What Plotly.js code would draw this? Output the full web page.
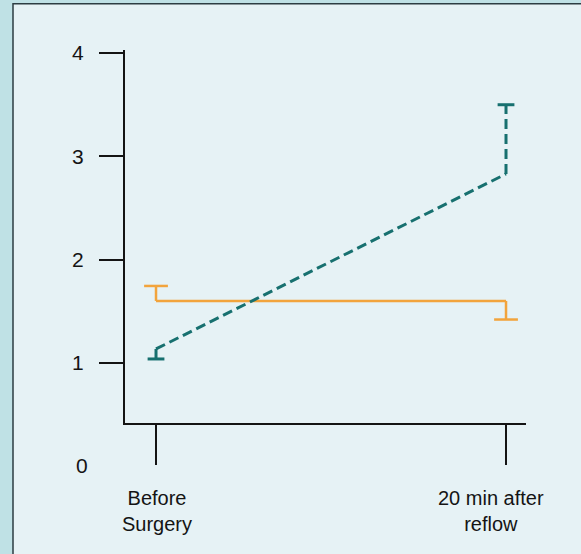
<!DOCTYPE html>
<html>
<head>
<meta charset="utf-8">
<script src="https://cdn.plot.ly/plotly-3.0.1.min.js"></script>
<style>
html,body{margin:0;padding:0;background:#bfe1e5;}
#chart{width:581px;height:554px;}
</style>
</head>
<body>
<div id="chart"></div>
<script>
// ---- data ----
const categories = ["Before<br>Surgery", "20 min after<br>reflow"];
const xPositions = [0, 1];
const yTickVals = [1, 2, 3, 4];
const yTickText = ["1", "2", "3", "4"];
const zeroLabel = "0";

const orangeValues = [1.60, 1.60];
const orangeErrPlus = [0.145, 0];
const orangeErrMinus = [0, 0.18];

const tealValues = [1.135, 2.83];
const tealErrPlus = [0, 0.67];
const tealErrMinus = [0.097, 0];

// ---- styling ----
const ORANGE = "#f2a43c";
const TEAL = "#17706f";
const INK = "#141414";
const FONT = "Liberation Sans, Arial, sans-serif";
const FSIZE = 20;
const YSIZE = 21;
const labelShift = [1, -15];

function seriesTraces(values, plus, minus, color, width, dash, capSize) {
  const traces = [];
  traces.push({
    x: xPositions, y: values, type: "scatter", mode: "lines",
    line: {color: color, width: width, dash: dash},
    hoverinfo: "skip", showlegend: false
  });
  const capX = [], capY = [];
  values.forEach((v, i) => {
    [[plus[i], 1], [minus[i], -1]].forEach(([e, s]) => {
      if (e > 0) {
        traces.push({
          x: [xPositions[i], xPositions[i]], y: [v, v + s * e],
          type: "scatter", mode: "lines",
          line: {color: color, width: width, dash: dash},
          hoverinfo: "skip", showlegend: false
        });
        capX.push(xPositions[i]);
        capY.push(v + s * e);
      }
    });
  });
  traces.push({
    x: capX, y: capY, type: "scatter", mode: "markers",
    marker: {symbol: "line-ew", size: capSize, color: color, line: {color: color, width: width}},
    hoverinfo: "skip", showlegend: false, cliponaxis: false
  });
  return traces;
}

const data = [].concat(
  seriesTraces(orangeValues, orangeErrPlus, orangeErrMinus, ORANGE, 2.5, "solid", 17),
  seriesTraces(tealValues, tealErrPlus, tealErrMinus, TEAL, 3, "10px,5px", 12)
);

const annotations = categories.map((c, i) => ({
  text: c, xref: "x", yref: "paper", x: xPositions[i], y: -0.165,
  xanchor: "center", yanchor: "top", xshift: labelShift[i],
  showarrow: false, font: {family: FONT, size: FSIZE, color: INK}
}));
annotations.push({
  text: zeroLabel, xref: "paper", yref: "paper",
  x: -0.107, y: -0.115, xanchor: "center", yanchor: "middle",
  showarrow: false, font: {family: FONT, size: YSIZE, color: INK}
});

const layout = {
  width: 581, height: 554,
  margin: {l: 125, r: 55, t: 50, b: 131, pad: 0},
  paper_bgcolor: "#bfe1e5",
  plot_bgcolor: "rgba(0,0,0,0)",
  showlegend: false,
  hovermode: false,
  font: {family: FONT, size: FSIZE, color: INK},
  xaxis: {
    range: [-0.0886, 1.0571],
    tickvals: xPositions, showticklabels: false,
    showgrid: false, zeroline: false,
    showline: true, linecolor: INK, linewidth: 2,
    ticks: "outside", ticklen: 40, tickwidth: 2, tickcolor: INK,
    fixedrange: true
  },
  yaxis: {
    range: [0.418, 4.03],
    tickvals: yTickVals, ticktext: yTickText,
    showgrid: false, zeroline: false,
    showline: true, linecolor: INK, linewidth: 2,
    ticks: "outside", ticklen: 24, tickwidth: 2, tickcolor: INK,
    ticklabelstandoff: 11,
    tickfont: {family: FONT, size: YSIZE, color: INK},
    fixedrange: true
  },
  shapes: [{
    type: "rect", xref: "paper", yref: "paper", layer: "below",
    x0: -0.2793, x1: 1.2, y0: -0.42, y1: 1.124,
    fillcolor: "#e6f2f5", line: {color: "#2c3c42", width: 1.5}
  }],
  annotations: annotations
};

Plotly.newPlot("chart", data, layout, {displayModeBar: false, staticPlot: true});
</script>
</body>
</html>
